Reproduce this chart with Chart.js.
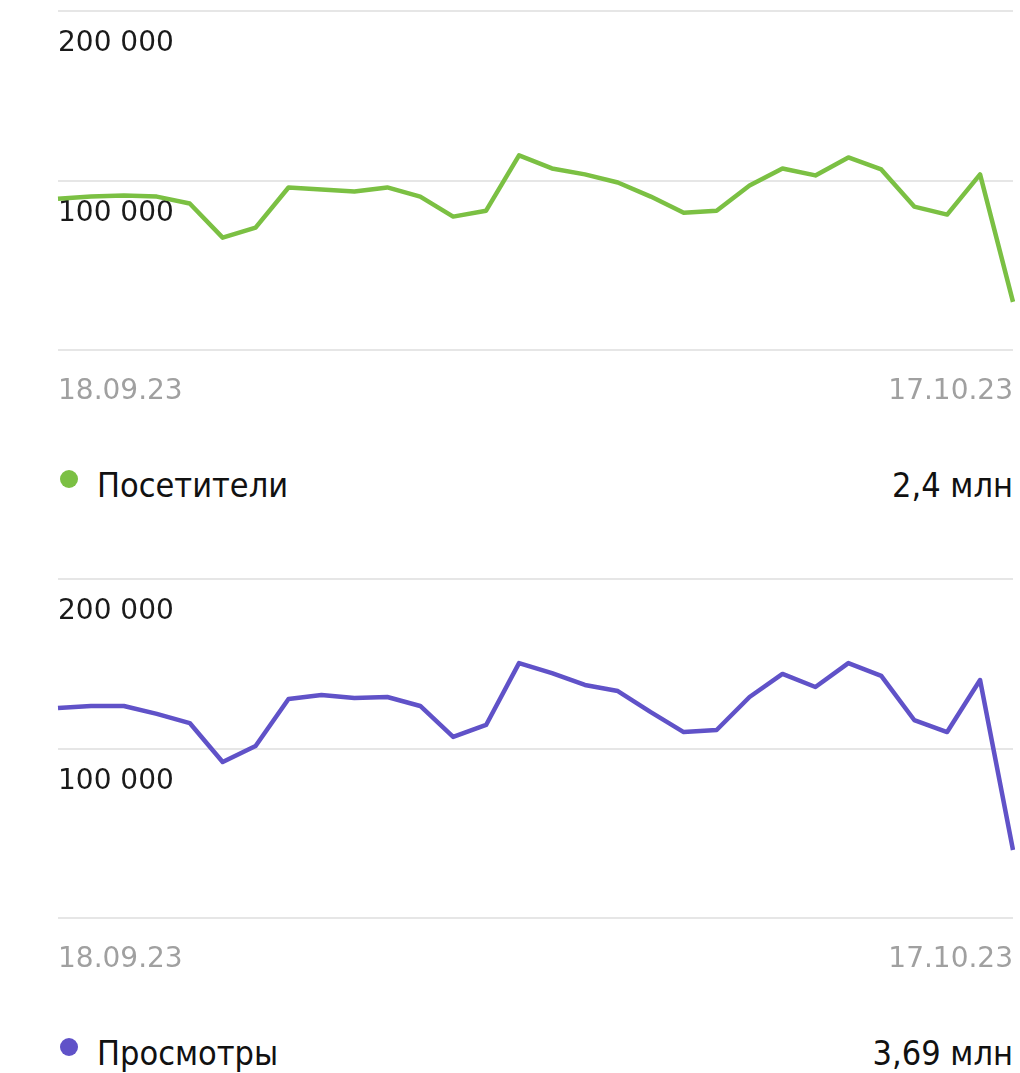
<!DOCTYPE html>
<html lang="ru">

<head>
  <meta charset="UTF-8">
  <script src="https://cdn.jsdelivr.net/npm/chart.js@4.4.0/dist/chart.umd.min.js"></script>
  <title>Посетители и просмотры</title>
  <style>
    body { margin: 0; background: #fff; width: 1020px; height: 1073px; position: relative; overflow: hidden; }
    .box { position: absolute; left: 0; width: 1020px; height: 420px; }
    .legend { position: absolute; left: 0; width: 1013px; height: 40px; font-family: "DejaVu Sans Condensed", "DejaVu Sans", sans-serif; font-size: 34px; line-height: 40px; color: #111; }
    .legend .dot { position: absolute; left: 60px; top: 5px; width: 18px; height: 18px; border-radius: 50%; }
    .legend .name { position: absolute; left: 97px; top: 0; }
    .legend .total { position: absolute; right: 0; top: 0; }
  </style>
</head>

<body>
  <div class="box" style="top: 0"><canvas id="visitsChart" width="1020" height="420"></canvas></div>
  <div class="legend" style="top: 465px">
    <span class="dot" style="background: #7bc043"></span><span class="name">Посетители</span><span class="total">2,4 млн</span>
  </div>
  <div class="box" style="top: 568px"><canvas id="viewsChart" width="1020" height="420"></canvas></div>
  <div class="legend" style="top: 1033px">
    <span class="dot" style="background: #6052c8"></span><span class="name">Просмотры</span><span class="total">3,69 млн</span>
  </div>

  <script>
    const dates = [
      '18.09.23', '19.09.23', '20.09.23', '21.09.23', '22.09.23', '23.09.23', '24.09.23',
      '25.09.23', '26.09.23', '27.09.23', '28.09.23', '29.09.23', '30.09.23', '01.10.23',
      '02.10.23', '03.10.23', '04.10.23', '05.10.23', '06.10.23', '07.10.23', '08.10.23',
      '09.10.23', '10.10.23', '11.10.23', '12.10.23', '13.10.23', '14.10.23', '15.10.23',
      '16.10.23', '17.10.23'
    ];

    // Посетители (visitors) per day
    const visitors = [
      89300, 90500, 91100, 90500, 86400, 66300, 72200, 95900, 94700, 93500,
      95900, 90500, 78700, 82200, 114800, 107100, 103600, 98800, 90500, 81000,
      82200, 97000, 107100, 103000, 113600, 106500, 84600, 79900, 103600, 28400
    ];

    // Просмотры (page views) per day
    const pageviews = [
      123900, 125100, 125100, 120400, 115000, 92000, 101500, 129200, 131600, 129800,
      130400, 125100, 106800, 113900, 150400, 144500, 137500, 133900, 121500, 109700,
      110900, 130400, 144000, 136300, 150400, 142800, 116800, 109700, 140400, 40100
    ];

    const yTicks = [0, 100000, 200000];

    function fmt(v) {
      return String(v).replace(/\B(?=(\d{3})+(?!\d))/g, ' ');
    }

    function makeChart(id, values, color) {
      new Chart(id, {
        type: 'line',
        data: {
          labels: dates,
          datasets: [{
            data: values,
            borderColor: color,
            borderWidth: 4.5,
            pointRadius: 0,
            tension: 0,
            borderJoinStyle: 'round',
            fill: false
          }]
        },
        options: {
          responsive: false,
          animation: false,
          devicePixelRatio: 1,
          layout: { padding: { left: 58, right: 7, top: 11, bottom: 0 } },
          plugins: { legend: { display: false }, tooltip: { enabled: false } },
          scales: {
            x: {
              afterFit: (s) => { s.paddingLeft = 0; s.paddingRight = 0; s.height = 70; },
              grid: { display: false, drawTicks: false },
              border: { display: false },
              ticks: {
                autoSkip: false,
                maxRotation: 0,
                align: 'inner',
                padding: 25,
                color: '#a0a0a0',
                font: { family: 'DejaVu Sans', size: 28 },
                callback: (v, i) => (i === 0 || i === dates.length - 1) ? dates[i] : ''
              }
            },
            y: {
              min: yTicks[0],
              max: yTicks[yTicks.length - 1],
              z: 1,
              afterBuildTicks: (s) => { s.ticks = yTicks.map(v => ({ value: v })); },
              afterFit: (s) => { s.paddingTop = 0; s.paddingBottom = 0; },
              grid: { color: '#e6e6e6', lineWidth: 2, drawTicks: false },
              border: { display: false },
              ticks: {
                mirror: true,
                padding: 0,
                labelOffset: 33,
                color: '#1a1a1a',
                font: { family: 'DejaVu Sans', size: 28 },
                showLabelBackdrop: true,
                backdropColor: 'rgba(255,255,255,0.6)',
                backdropPadding: 0,
                callback: (v) => v === 0 ? '' : fmt(v)
              }
            }
          }
        }
      });
    }

    makeChart('visitsChart', visitors, '#7bc043');
    makeChart('viewsChart', pageviews, '#6052c8');
  </script>
</body>

</html>
